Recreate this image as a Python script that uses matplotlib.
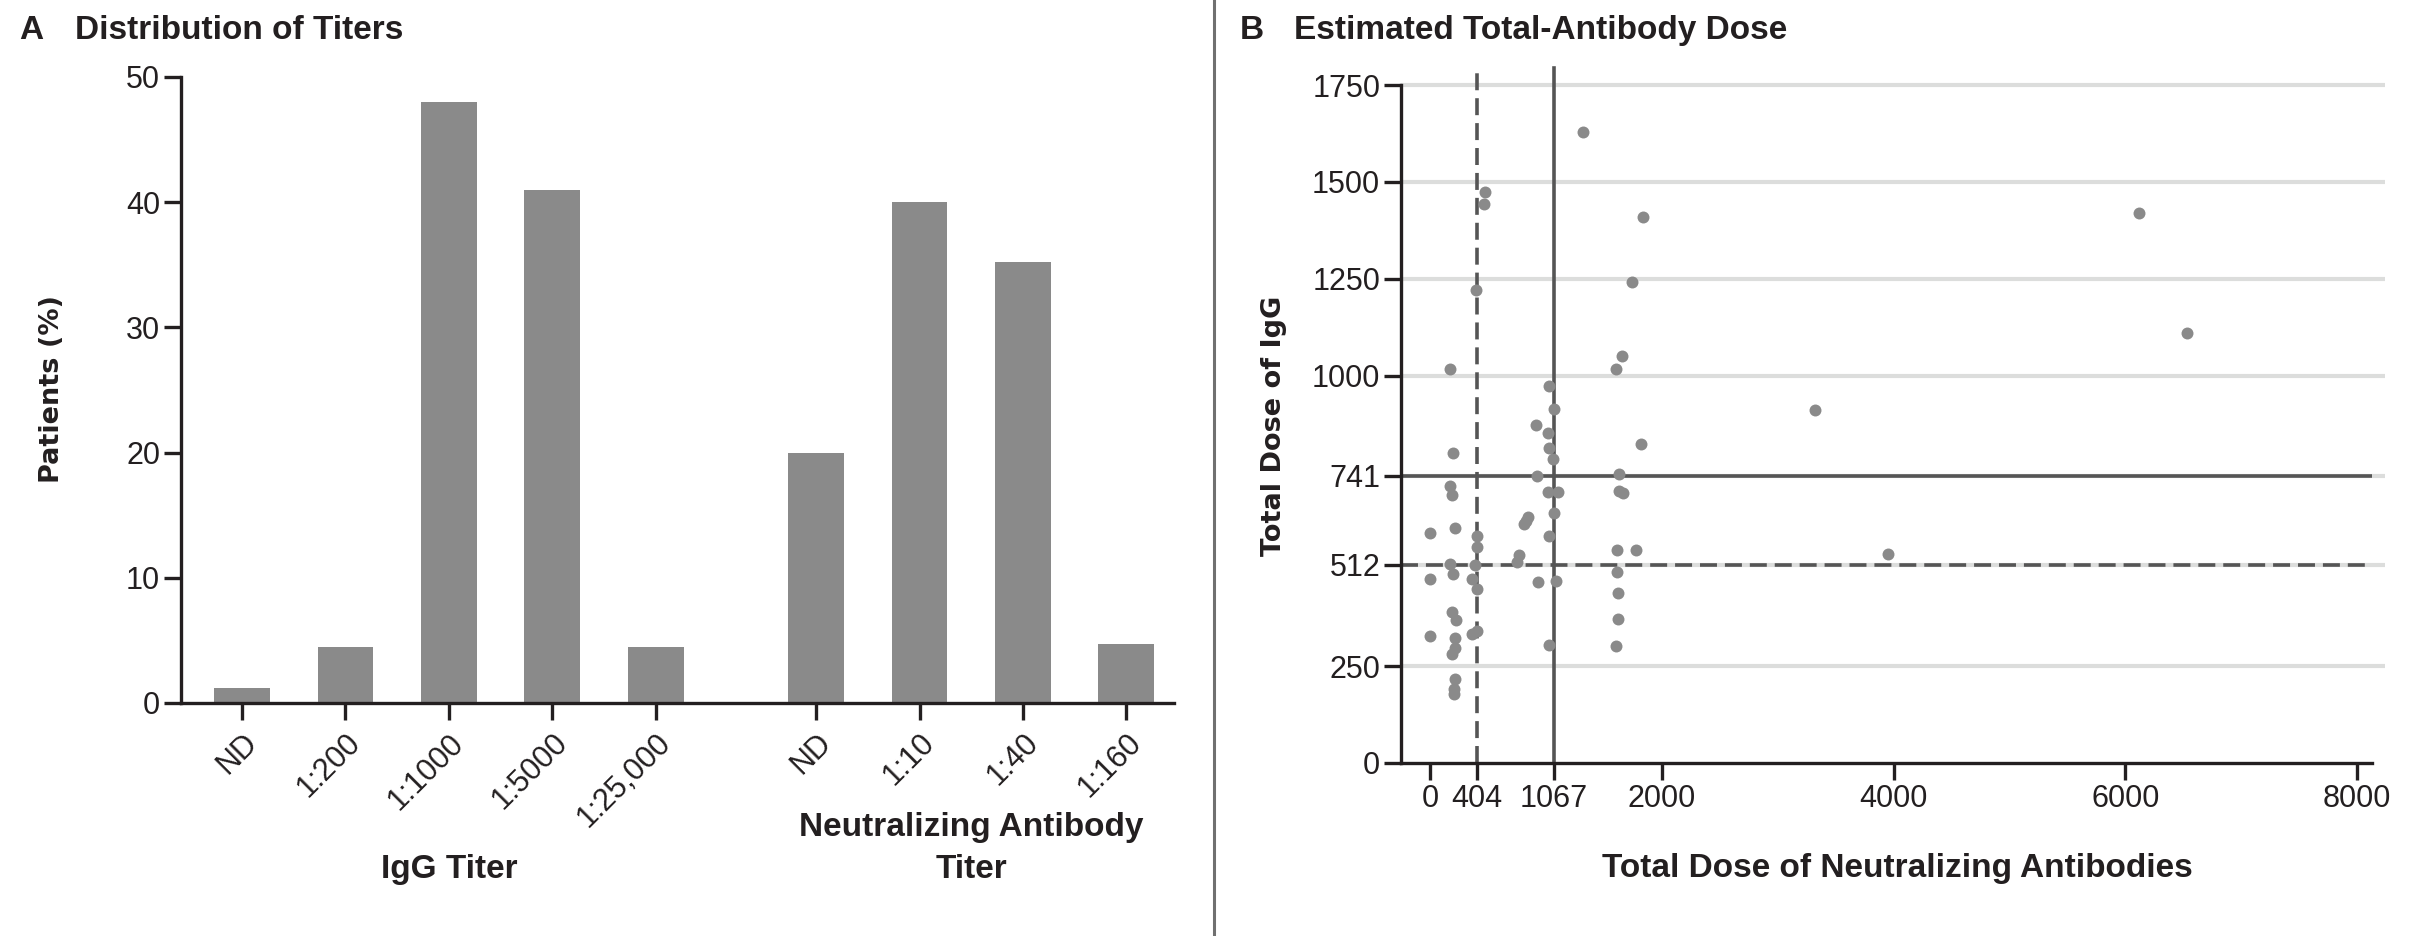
import matplotlib
matplotlib.use('Agg')
import matplotlib.pyplot as plt
import matplotlib.transforms as mtransforms
import numpy as np

# panel A: distribution of titers (% of patients)
igg_titers = ['ND', '1:200', '1:1000', '1:5000', '1:25,000']
igg_pct = [1.2, 4.5, 48.0, 41.0, 4.5]
nab_titers = ['ND', '1:10', '1:40', '1:160']
nab_pct = [20.0, 40.0, 35.2, 4.7]

# panel B: estimated total-antibody dose, one point per donor
nab_dose = [0, 0, 0,
            177, 198, 177, 192, 215, 177, 198, 186, 227, 212, 212, 186, 215, 206, 210,
            477, 462, 398, 404, 404, 390, 361, 410, 366, 404,
            1317, 1024, 1070, 913, 1015, 1026, 1058, 925, 1021, 1105,
            1070, 846, 825, 811, 1029, 771, 750, 933, 1085, 1029,
            1841, 1742, 1655, 1608, 1823, 1631, 1631, 1666, 1617, 1777, 1617, 1625, 1625, 1608,
            3320, 3956, 6115, 6530]
igg_dose = [595, 475, 328,
            1018, 800, 715, 691, 607, 513, 487, 389, 370, 322, 297, 281, 218, 190, 178,
            1474, 1442, 1221, 586, 558, 512, 474, 450, 332, 340,
            1628, 972, 914, 872, 852, 812, 784, 740, 700, 700,
            646, 635, 625, 616, 586, 538, 520, 467, 469, 304,
            1410, 1242, 1050, 1016, 823, 745, 703, 697, 549, 549, 494, 439, 371, 303,
            910, 540, 1420, 1110]
nab_cut_low, nab_cut_high = 404, 1067
igg_cut_low, igg_cut_high = 512, 741
xticks_b = [0, 404, 1067, 2000, 4000, 6000, 8000]
yticks_b = [0, 250, 512, 741, 1000, 1250, 1500, 1750]

# styles
plt.rcParams['font.family'] = ['Liberation Sans', 'DejaVu Sans']
dark = '#231f20'
bar_c = '#8a8a8a'
pt_c = '#8a8a8a'
line_c = '#555555'
grid_c = '#dcdddc'
W, H = 2412, 936


def px_box(x0, y0, x1, y1):
    return [x0 / W, 1 - y1 / H, (x1 - x0) / W, (y1 - y0) / H]


fig = plt.figure(figsize=(W / 100, H / 100), dpi=100)

# ---------- A ----------
axA = fig.add_axes(px_box(181, 77, 1174, 703))
gap = 0.55
pos_igg = np.arange(len(igg_titers))
pos_nab = np.arange(len(nab_titers)) + len(igg_titers) + gap
axA.bar(pos_igg, igg_pct, width=0.54, color=bar_c, zorder=2)
axA.bar(pos_nab, nab_pct, width=0.54, color=bar_c, zorder=2)
axA.set_xlim(-0.59, 9.01)
axA.set_ylim(0, 50)
axA.set_yticks(np.arange(0, 51, 10))
axA.set_xticks(np.r_[pos_igg, pos_nab])
axA.set_xticklabels(igg_titers + nab_titers, rotation=45, ha='right', va='top',
                    rotation_mode='anchor')
for s in ['top', 'right']:
    axA.spines[s].set_visible(False)
for s in ['left', 'bottom']:
    axA.spines[s].set_linewidth(2.4)
    axA.spines[s].set_color(dark)
axA.tick_params(axis='both', length=12, width=2.4, color=dark, labelsize=22,
                labelcolor=dark)
axA.tick_params(axis='y', pad=3)
axA.tick_params(axis='x', pad=6)

trans = mtransforms.blended_transform_factory(axA.transData, fig.transFigure)
axA.text(pos_igg.mean(), 1 - 878 / H, 'IgG Titer', transform=trans, ha='center',
         va='baseline', fontsize=24, fontweight='bold', color=dark)
axA.text(pos_nab.mean(), 1 - 878 / H, 'Neutralizing Antibody\nTiter', transform=trans,
         ha='center', va='baseline', fontsize=24, fontweight='bold', color=dark,
         linespacing=1.45)
fig.text(52 / W, 1 - 389 / H, 'Patients (%)', rotation=90, ha='center', va='center',
         family='DejaVu Sans', fontweight='bold', fontsize=19.5, color=dark)
fig.text(19 / W, 1 - 39 / H, 'A', fontsize=24, fontweight='bold', color=dark, va='baseline')
fig.text(75 / W, 1 - 39 / H, 'Distribution of Titers', fontsize=24, fontweight='bold',
         color=dark, va='baseline')

# ---------- B ----------
axB = fig.add_axes(px_box(1401, 65.7, 2372, 763))
axB.set_xlim(-250, 8128)
axB.set_ylim(0, 1800)
axB.hlines(yticks_b[1:], -250, 8240, color=grid_c, lw=3, zorder=1, clip_on=False)
axB.plot([nab_cut_low, nab_cut_low], [0, 1795], color=line_c, lw=2.6,
         dashes=(4.7, 2.2), zorder=2, clip_on=False)
axB.plot([nab_cut_high, nab_cut_high], [0, 1795], color=line_c, lw=2.6, zorder=2,
         clip_on=False)
axB.plot([-250, 8128], [igg_cut_low, igg_cut_low], color=line_c, lw=2.6,
         dashes=(4.7, 2.2), zorder=2)
axB.plot([-250, 8128], [igg_cut_high, igg_cut_high], color=line_c, lw=2.6, zorder=2)
axB.scatter(nab_dose, igg_dose, s=74, color=pt_c, linewidths=0, zorder=3)

axB.set_xticks(xticks_b)
axB.set_yticks(yticks_b)
for s in ['top', 'right']:
    axB.spines[s].set_visible(False)
for s in ['left', 'bottom']:
    axB.spines[s].set_linewidth(2.4)
    axB.spines[s].set_color(dark)
    axB.spines[s].set_zorder(4)
axB.spines['left'].set_bounds(0, 1750)
axB.tick_params(axis='both', length=12, width=2.4, color=dark, labelsize=22,
                labelcolor=dark, pad=3)

fig.text(1274 / W, 1 - 426 / H, 'Total Dose of IgG', rotation=90, ha='center',
         va='center', family='DejaVu Sans', fontweight='bold', fontsize=19.5, color=dark)
fig.text(1897 / W, 1 - 877 / H, 'Total Dose of Neutralizing Antibodies', ha='center',
         va='baseline', fontsize=24, fontweight='bold', color=dark)
fig.text(1240 / W, 1 - 39 / H, 'B', fontsize=24, fontweight='bold', color=dark, va='baseline')
fig.text(1294 / W, 1 - 39 / H, 'Estimated Total-Antibody Dose', fontsize=24,
         fontweight='bold', color=dark, va='baseline')

# divider between panels
fig.add_artist(plt.Line2D([1214 / W, 1214 / W], [0, 1], transform=fig.transFigure,
                          color='#707070', lw=2.2))

fig.savefig('out.png', dpi=100)
